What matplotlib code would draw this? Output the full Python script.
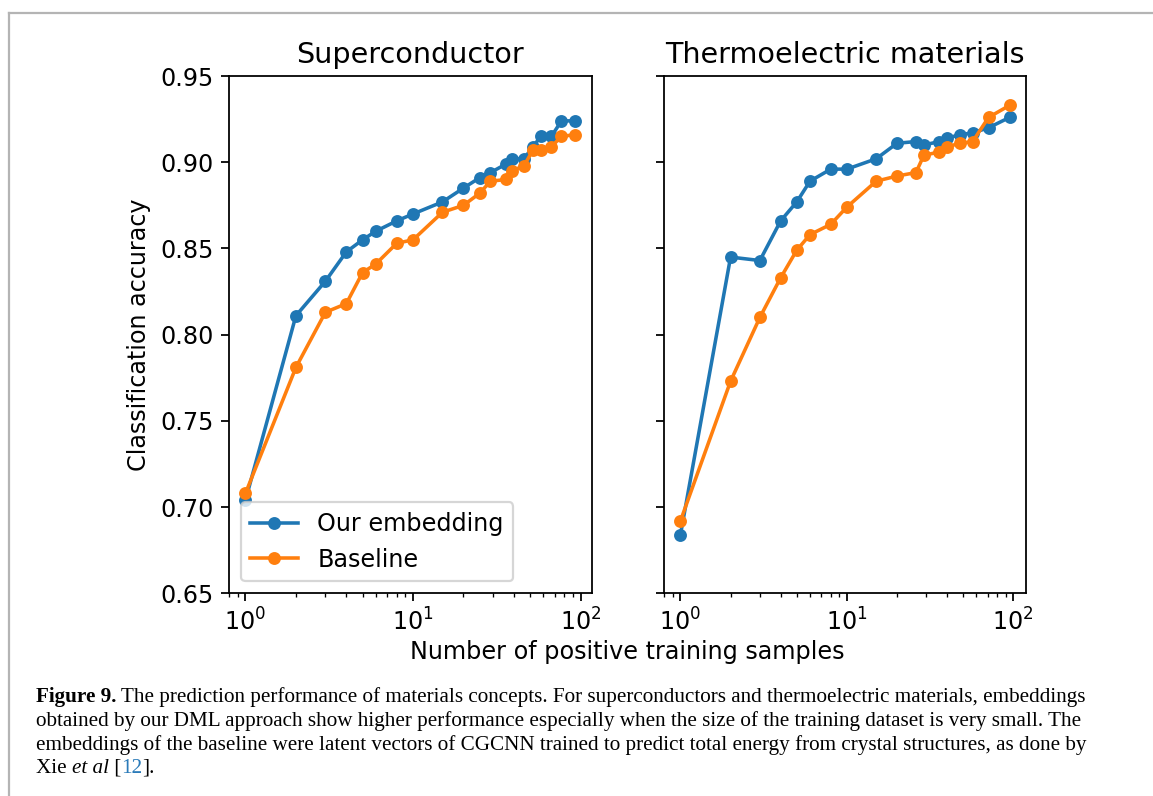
import matplotlib
matplotlib.use("Agg")
import matplotlib.pyplot as plt
from matplotlib.lines import Line2D

# Superconductor
sc_x = [1, 2, 3, 4, 5, 6, 8, 10, 15, 20, 25, 29, 36, 39, 46, 52, 58, 67, 77, 93]
sc_ours = [0.704, 0.811, 0.831, 0.848, 0.855, 0.860, 0.866, 0.870, 0.877, 0.885,
           0.891, 0.894, 0.899, 0.902, 0.902, 0.909, 0.915, 0.915, 0.924, 0.924]
sc_base = [0.708, 0.781, 0.813, 0.818, 0.836, 0.841, 0.853, 0.855, 0.871, 0.875,
           0.882, 0.889, 0.890, 0.895, 0.898, 0.907, 0.907, 0.909, 0.915, 0.916]

# Thermoelectric materials
te_x = [1, 2, 3, 4, 5, 6, 8, 10, 15, 20, 26, 29, 36, 40, 48, 57, 71, 95]
te_ours = [0.684, 0.845, 0.843, 0.866, 0.877, 0.889, 0.896, 0.896, 0.902, 0.911,
           0.912, 0.910, 0.912, 0.914, 0.916, 0.917, 0.920, 0.926]
te_base = [0.692, 0.773, 0.810, 0.833, 0.849, 0.858, 0.864, 0.874, 0.889, 0.892,
           0.894, 0.904, 0.906, 0.909, 0.911, 0.912, 0.926, 0.933]

titles = ["Superconductor", "Thermoelectric materials"]
labels = ["Our embedding", "Baseline"]

plt.rcParams["font.size"] = 10.75

fig = plt.figure(figsize=(1153 / 160, 796 / 160), dpi=160)
ax1 = fig.add_axes([0.1986, 0.2546, 0.3146, 0.6499])
ax2 = fig.add_axes([0.5759, 0.2546, 0.3140, 0.6499], sharey=ax1)

for ax, x, ours, base, t in [(ax1, sc_x, sc_ours, sc_base, titles[0]),
                              (ax2, te_x, te_ours, te_base, titles[1])]:
    ax.plot(x, ours, "o-", ms=4.8, lw=1.6, label=labels[0])
    ax.plot(x, base, "o-", ms=4.8, lw=1.6, label=labels[1])
    ax.set_xscale("log")
    ax.set_title(t)

ax1.set_ylim(0.65, 0.95)
ax1.set_ylabel("Classification accuracy")
plt.setp(ax2.get_yticklabels(), visible=False)
ax1.legend(loc="lower left")

fig.text(0.5443, 0.181, "Number of positive training samples", ha="center", va="center")

# grey frame of the page
fig.add_artist(Line2D([9 / 1153, 1.0], [1 - 13 / 796, 1 - 13 / 796], color="#b4b4b4", lw=1.0))
fig.add_artist(Line2D([9 / 1153, 9 / 1153], [1 - 13 / 796, 0.0], color="#b4b4b4", lw=1.0))

# caption
cap_font = "Liberation Serif"
cap_size = 9.5
renderer = fig.canvas.get_renderer()


def write_line(pieces, x_px, y_px):
    x = x_px
    for txt, kw in pieces:
        t = fig.text(x / 1153, 1 - y_px / 796, txt, fontsize=cap_size, family=cap_font,
                     va="baseline", ha="left", **kw)
        bb = t.get_window_extent(renderer=renderer)
        x += bb.width


write_line([("Figure 9.", {"weight": "bold"}),
            (" The prediction performance of materials concepts. For superconductors and "
             "thermoelectric materials, embeddings", {})], 36, 702)
write_line([("obtained by our DML approach show higher performance especially when the size "
             "of the training dataset is very small. The", {})], 36, 726)
write_line([("embeddings of the baseline were latent vectors of CGCNN trained to predict total "
             "energy from crystal structures, as done by", {})], 36, 750)
write_line([("Xie ", {}), ("et al", {"style": "italic"}), (" [", {}),
            ("12", {"color": "#2b7bb9"}), ("].", {})], 36, 773)

fig.savefig("out.png", dpi=160)
